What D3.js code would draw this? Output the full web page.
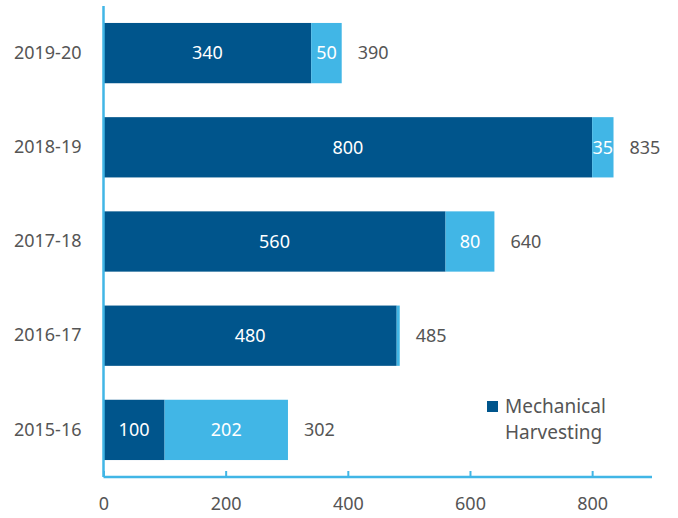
<!DOCTYPE html>
<html><head><meta charset="utf-8">
<script src="https://cdn.jsdelivr.net/npm/d3@7"></script>
<style>body{margin:0;background:#fff}svg{display:block}text{font-family:"Source Sans Pro","Noto Sans",sans-serif}</style>
</head><body><svg id="c" width="678" height="518"></svg>
<script>
const categories = ["2019-20","2018-19","2017-18","2016-17","2015-16"];
const mechanical = [340,800,560,480,100];
const other = [50,35,80,5,202];
const totals = [390,835,640,485,302];
const xTicks = [0,200,400,600,800];
const legendLines = ["Mechanical","Harvesting"];

const dark="#00558C", light="#41B6E6", txt="#555555";
const svg=d3.select("#c");
const pLeft=103.5, pRight=652, pTop=6, pBottom=477;
const x=d3.scaleLinear().domain([0,898]).range([pLeft,pRight]);
const y=d3.scaleBand().domain(categories).range([pTop,pBottom]).paddingInner(0.36).paddingOuter(0.18);

const g=svg.append("g");
categories.forEach((c,i)=>{
  g.append("rect").attr("x",x(0)).attr("y",y(c)).attr("width",x(mechanical[i])-x(0)).attr("height",y.bandwidth()).attr("fill",dark);
  g.append("rect").attr("x",x(mechanical[i])).attr("y",y(c)).attr("width",x(mechanical[i]+other[i])-x(mechanical[i])).attr("height",y.bandwidth()).attr("fill",light);
  const cy=y(c)+y.bandwidth()/2;
  g.append("text").attr("x",(x(0)+x(mechanical[i]))/2).attr("y",cy).attr("dy","0.35em").attr("text-anchor","middle").attr("fill","#fff").attr("font-size",18).text(mechanical[i]);
  if(other[i]>=20) g.append("text").attr("x",(x(mechanical[i])+x(mechanical[i]+other[i]))/2).attr("y",cy).attr("dy","0.35em").attr("text-anchor","middle").attr("fill","#fff").attr("font-size",18).text(other[i]);
  g.append("text").attr("x",x(totals[i])+16).attr("y",cy).attr("dy","0.35em").attr("fill",txt).attr("font-size",18).text(totals[i]);
});

const xa=svg.append("g").attr("transform",`translate(0,${pBottom})`).call(d3.axisBottom(x).tickValues(xTicks).tickSize(-6).tickPadding(20).tickFormat(d3.format("d")));
xa.select(".domain").attr("stroke",light).attr("stroke-width",2.5).attr("d",`M${pLeft},0H${pRight}`);
xa.selectAll(".tick line").attr("stroke",light).attr("stroke-width",2);
xa.selectAll(".tick text").attr("fill",txt).attr("font-size",18).attr("dy","0.71em");

const ya=svg.append("g").attr("transform",`translate(${pLeft},0)`).call(d3.axisLeft(y).tickSize(0).tickPadding(22));
ya.select(".domain").attr("stroke",light).attr("stroke-width",2.5).attr("d",`M0,${pTop}V${pBottom}`);
ya.selectAll(".tick text").attr("fill",txt).attr("font-size",18);

svg.append("rect").attr("x",487).attr("y",401).attr("width",11).attr("height",11).attr("fill",dark);
legendLines.forEach((t,i)=>svg.append("text").attr("x",505).attr("y",413+i*26).attr("fill",txt).attr("font-size",19).text(t));
</script></body></html>
